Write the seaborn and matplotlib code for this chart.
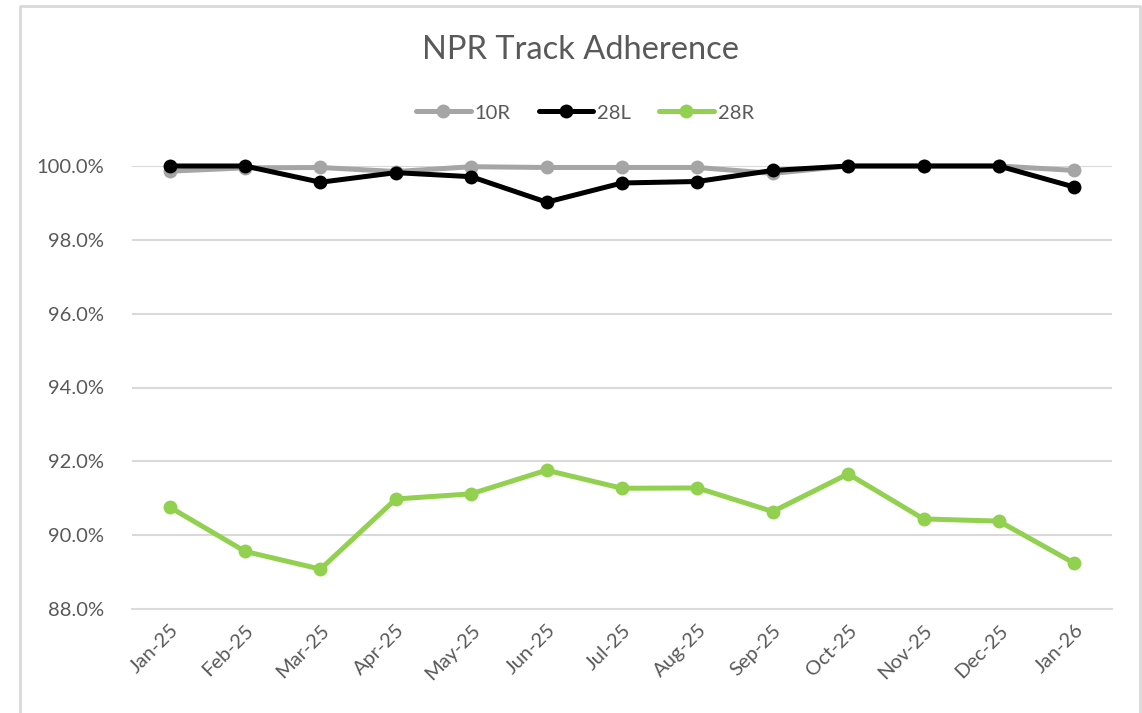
import pandas as pd
import numpy as np
import matplotlib
matplotlib.use("Agg")
import matplotlib.pyplot as plt
import matplotlib.ticker as mticker
from matplotlib.lines import Line2D
import seaborn as sns

# data (percent)
months = ["Jan-25", "Feb-25", "Mar-25", "Apr-25", "May-25", "Jun-25", "Jul-25",
          "Aug-25", "Sep-25", "Oct-25", "Nov-25", "Dec-25", "Jan-26"]
r10 = [99.86, 99.95, 99.96, 99.85, 99.98, 99.96, 99.96, 99.96, 99.80, 100.0, 100.0, 100.0, 99.88]
l28 = [100.0, 100.0, 99.56, 99.82, 99.71, 99.02, 99.54, 99.58, 99.88, 100.0, 100.0, 100.0, 99.43]
r28 = [90.76, 89.56, 89.08, 90.98, 91.12, 91.76, 91.27, 91.28, 90.64, 91.66, 90.44, 90.38, 89.24]
series = ["10R", "28L", "28R"]
palette = {"10R": "#A5A5A5", "28L": "#000000", "28R": "#92D050"}

df = pd.DataFrame({
    "month": months * 3,
    "idx": list(range(len(months))) * 3,
    "value": r10 + l28 + r28,
    "runway": [s for s in series for _ in months],
})

sns.set_theme(style="white")
plt.rcParams["font.family"] = ["Lato", "DejaVu Sans"]
TXT = "#595959"
GRID = "#D9D9D9"

fig = plt.figure(figsize=(11.42, 7.13), dpi=100)
ax = fig.add_axes([132 / 1142, 1 - 609 / 713, (1112 - 132) / 1142, (609 - 166) / 713])

sns.lineplot(data=df, x="idx", y="value", hue="runway", hue_order=series,
             palette=palette, marker="o", markersize=10, markeredgewidth=0,
             linewidth=3.6, sort=False, ax=ax, legend=False)
for ln in ax.lines:
    ln.set_clip_on(False)

ax.set_xlim(-0.5, len(months) - 0.5)
ax.set_ylim(88, 100)
ax.set_yticks(np.arange(88, 100.1, 2))
ax.yaxis.set_major_formatter(mticker.FuncFormatter(lambda v, p: f"{v:.1f}%"))
ax.grid(axis="y", color=GRID, lw=1.5)
ax.set_axisbelow(True)
ax.set_xlabel("")
ax.set_ylabel("")

ax.set_xticks(range(len(months)))
ax.set_xticklabels(months, rotation=45, ha="right", va="top", rotation_mode="anchor")
ax.set_xticks(np.arange(-0.5, len(months), 1), minor=True)
ax.tick_params(axis="x", which="major", length=0, pad=9, labelsize=14.5, labelcolor=TXT)
ax.tick_params(axis="x", which="minor", length=6, width=1.3, color=GRID, direction="out")
ax.tick_params(axis="y", length=0, pad=20, labelsize=14.5, labelcolor=TXT)

for s in ["top", "left", "right"]:
    ax.spines[s].set_visible(False)
ax.spines["bottom"].set_color(GRID)
ax.spines["bottom"].set_linewidth(1.3)

fig.text(581 / 1142, 1 - 50 / 713, "NPR Track Adherence", fontsize=23.5, color=TXT,
         ha="center", va="center")

handles = [Line2D([], [], color=palette[s], lw=3.6, marker="o", markersize=10,
                  markeredgewidth=0) for s in series]
leg = fig.legend(handles, series, loc="center", bbox_to_anchor=(585 / 1142, 1 - 113 / 713),
                 ncol=3, frameon=False, fontsize=14.5, handlelength=2.7,
                 columnspacing=1.4, handletextpad=0.2, labelcolor=TXT)

# outer chart frame (top, left, right)
fx = [20 / 1142, 20 / 1142, 1140 / 1142, 1140 / 1142]
fy = [0.0, 1 - 6 / 713, 1 - 6 / 713, 0.0]
fig.add_artist(Line2D(fx, fy, transform=fig.transFigure, color=GRID, lw=2))

fig.savefig("out.png", dpi=100, facecolor="white")
